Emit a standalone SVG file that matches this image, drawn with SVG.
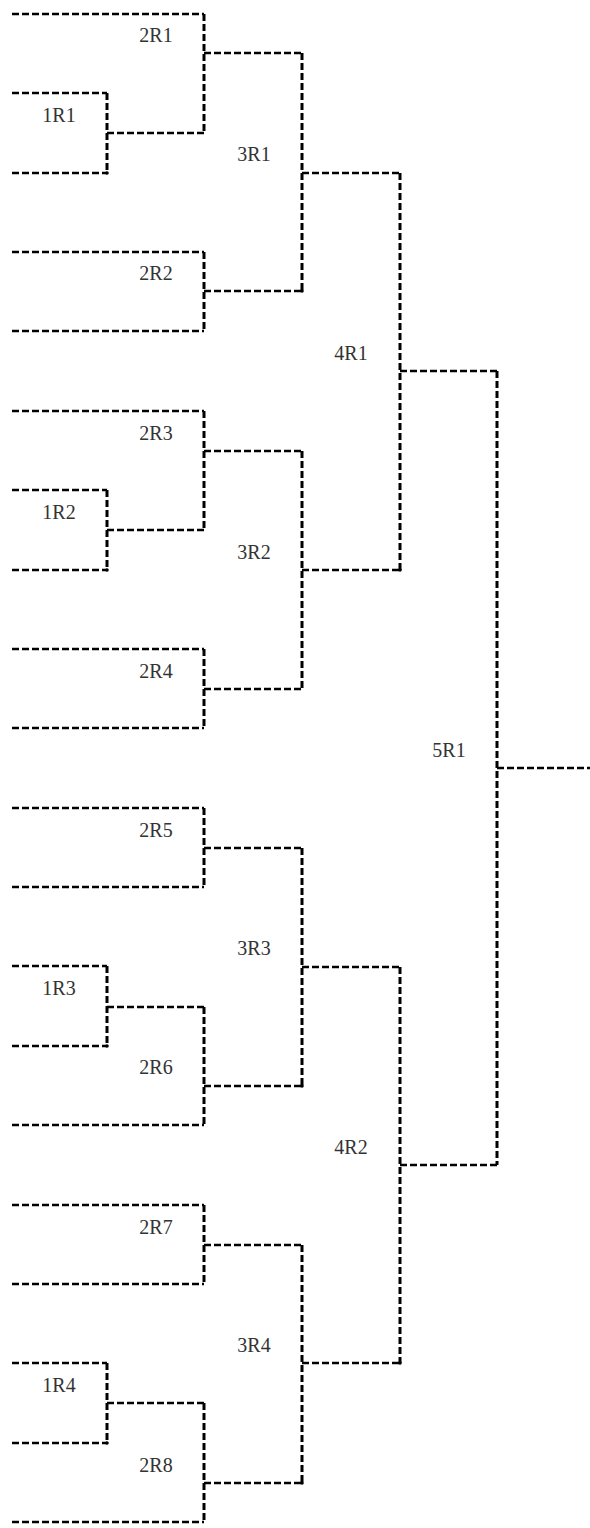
<svg xmlns="http://www.w3.org/2000/svg" width="590" height="1528" viewBox="0 0 590 1528">
<style>
.c{fill:none;stroke:#000;stroke-width:2.5;stroke-dasharray:7 3}
.v{fill:none;stroke:#000;stroke-width:3;stroke-dasharray:7 3}
.d{fill:#000}
text{font-family:"Liberation Serif","Times New Roman",serif;font-size:20px;fill:#333;text-anchor:middle}
</style>
<rect width="590" height="1528" fill="#fff"/>
<g id="connectors">
<path class="c" d="M12 14H204M12 93H107M12 173H107M12 252H204M12 331H204"/>
<path class="c" d="M12 411H204M12 490H107M12 570H107M12 649H204M12 728H204"/>
<path class="c" d="M12 808H204M12 887H204M12 966H107M12 1046H107M12 1125H204"/>
<path class="c" d="M12 1205H204M12 1284H204M12 1363H107M12 1443H107M12 1522H204"/>
<path class="c" d="M107 133H204M204 53H302M204 291H302M302 173H400"/>
<path class="c" d="M107 530H204M204 451H302M204 689H302M302 570H400M400 371H497"/>
<path class="c" d="M204 848H302M107 1007H204M204 1086H302M302 967H400"/>
<path class="c" d="M204 1245H302M107 1403H204M204 1483H302M302 1363H400M400 1165H497M497 768H590"/>
<path class="v" d="M107 93V173M204 14V133M204 252V331M302 53V291M400 173V570"/>
<path class="v" d="M107 490V570M204 411V530M204 649V728M302 451V689"/>
<path class="v" d="M204 808V887M107 966V1046M204 1007V1125M302 848V1086M400 967V1363"/>
<path class="v" d="M204 1205V1284M107 1363V1443M204 1403V1522M302 1245V1483M497 371V1165"/>
<circle class="d" cx="107" cy="173" r="1.8"/>
<circle class="d" cx="302" cy="291" r="1.8"/>
<circle class="d" cx="107" cy="570" r="1.8"/>
<circle class="d" cx="400" cy="570" r="1.8"/>
<circle class="d" cx="107" cy="1046" r="1.8"/>
<circle class="d" cx="302" cy="1086" r="1.8"/>
<circle class="d" cx="107" cy="1443" r="1.8"/>
<circle class="d" cx="302" cy="1483" r="1.8"/>
<circle class="d" cx="400" cy="1363" r="1.8"/>
</g>
<g id="n-1R1"><text x="59" y="122">1R1</text></g>
<g id="n-2R1"><text x="156" y="42">2R1</text></g>
<g id="n-2R2"><text x="156" y="280">2R2</text></g>
<g id="n-3R1"><text x="254" y="161">3R1</text></g>
<g id="n-1R2"><text x="59" y="519">1R2</text></g>
<g id="n-2R3"><text x="156" y="440">2R3</text></g>
<g id="n-2R4"><text x="156" y="678">2R4</text></g>
<g id="n-3R2"><text x="254" y="559">3R2</text></g>
<g id="n-4R1"><text x="351" y="360">4R1</text></g>
<g id="n-2R5"><text x="156" y="837">2R5</text></g>
<g id="n-1R3"><text x="59" y="995">1R3</text></g>
<g id="n-2R6"><text x="156" y="1074">2R6</text></g>
<g id="n-3R3"><text x="254" y="955">3R3</text></g>
<g id="n-2R7"><text x="156" y="1234">2R7</text></g>
<g id="n-1R4"><text x="59" y="1392">1R4</text></g>
<g id="n-2R8"><text x="156" y="1472">2R8</text></g>
<g id="n-3R4"><text x="254" y="1352">3R4</text></g>
<g id="n-4R2"><text x="351" y="1154">4R2</text></g>
<g id="n-5R1"><text x="449" y="757">5R1</text></g>
</svg>
